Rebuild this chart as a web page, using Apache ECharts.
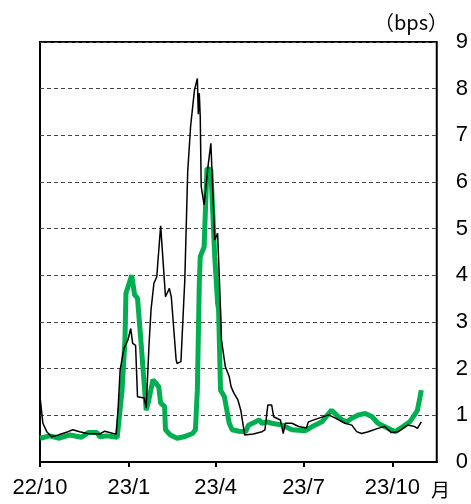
<!DOCTYPE html>
<html><head><meta charset="utf-8">
<script src="https://cdn.jsdelivr.net/npm/echarts@6/dist/echarts.min.js"></script>
<style>html,body{margin:0;padding:0;background:#fff}#c{width:471px;height:504px}</style>
</head><body><div id="c"></div>
<script>
// Black series (thin)
const blackDates = ['2022-10-01','2022-10-04','2022-10-08','2022-10-13','2022-10-20','2022-10-30','2022-11-04','2022-11-11','2022-11-19','2022-12-02','2022-12-07','2022-12-16','2022-12-19','2022-12-21','2022-12-23','2022-12-27','2022-12-31','2023-01-03','2023-01-05','2023-01-08','2023-01-10','2023-01-12','2023-01-17','2023-01-19','2023-01-22','2023-01-24','2023-01-27','2023-01-30','2023-01-31','2023-02-03','2023-02-08','2023-02-12','2023-02-14','2023-02-19','2023-02-20','2023-02-24','2023-02-25','2023-02-27','2023-02-28','2023-03-03','2023-03-06','2023-03-10','2023-03-13','2023-03-14','2023-03-15','2023-03-16','2023-03-17','2023-03-20','2023-03-24','2023-03-27','2023-03-31','2023-04-03','2023-04-04','2023-04-06','2023-04-07','2023-04-11','2023-04-15','2023-04-17','2023-04-20','2023-04-24','2023-04-27','2023-05-01','2023-05-10','2023-05-19','2023-05-22','2023-05-25','2023-05-29','2023-05-31','2023-06-07','2023-06-10','2023-06-12','2023-06-19','2023-06-26','2023-07-04','2023-07-06','2023-07-17','2023-07-27','2023-08-03','2023-08-13','2023-08-20','2023-08-25','2023-08-30','2023-09-06','2023-09-16','2023-09-23','2023-09-30','2023-10-07','2023-10-17','2023-10-24','2023-10-27','2023-10-31'];
const blackValues = [1.40,0.83,0.65,0.54,0.58,0.65,0.69,0.65,0.61,0.60,0.66,0.61,0.60,1.18,1.97,2.44,2.61,2.86,2.54,2.50,1.40,1.37,1.37,1.16,2.54,3.26,3.83,3.97,4.26,5.06,3.54,3.72,3.54,2.19,2.11,2.15,2.19,3.47,3.90,6.22,7.19,7.97,8.22,7.45,7.90,7.40,5.90,5.51,6.33,6.83,4.76,4.90,4.91,3.26,2.61,2.04,1.83,1.61,1.47,1.33,1.11,0.58,0.60,0.65,0.69,1.22,1.22,0.97,0.90,0.61,0.83,0.83,0.76,0.73,0.86,0.94,1.01,0.94,0.83,0.79,0.65,0.61,0.65,0.72,0.76,0.63,0.65,0.79,0.76,0.72,0.86];
// Green series (thick)
const greenDates = ['2022-10-01','2022-10-11','2022-10-21','2022-11-01','2022-11-13','2022-11-20','2022-11-29','2022-12-02','2022-12-09','2022-12-20','2022-12-25','2022-12-28','2022-12-29','2023-01-04','2023-01-07','2023-01-10','2023-01-14','2023-01-19','2023-01-21','2023-01-26','2023-01-29','2023-02-01','2023-02-03','2023-02-07','2023-02-08','2023-02-13','2023-02-20','2023-02-27','2023-03-08','2023-03-11','2023-03-13','2023-03-15','2023-03-16','2023-03-20','2023-03-22','2023-03-23','2023-03-27','2023-03-31','2023-04-03','2023-04-04','2023-04-06','2023-04-10','2023-04-15','2023-04-18','2023-04-25','2023-05-02','2023-05-05','2023-05-16','2023-05-19','2023-05-24','2023-05-29','2023-06-09','2023-06-19','2023-07-03','2023-07-10','2023-07-20','2023-07-30','2023-08-04','2023-08-10','2023-08-15','2023-08-20','2023-08-27','2023-09-03','2023-09-10','2023-09-16','2023-09-27','2023-10-04','2023-10-12','2023-10-19','2023-10-24','2023-10-27','2023-10-31'];
const greenValues = [0.51,0.56,0.51,0.58,0.53,0.63,0.63,0.54,0.56,0.53,1.54,2.61,3.61,4.00,3.58,3.51,2.47,1.11,1.26,1.76,1.69,1.61,1.26,1.19,0.69,0.58,0.51,0.54,0.61,0.69,1.54,3.83,4.40,4.61,5.76,6.29,6.26,4.40,3.40,3.26,1.54,1.40,0.83,0.69,0.66,0.65,0.79,0.90,0.83,0.86,0.83,0.79,0.69,0.67,0.76,0.86,1.11,1.01,0.90,0.86,0.94,1.01,1.04,0.97,0.83,0.72,0.65,0.76,0.86,1.01,1.11,1.54];
// X tick labels
const tickDates = ['2022-10-01','2023-01-01','2023-04-01','2023-07-01','2023-10-01'];
const tickLabels = ['22/10','23/1','23/4','23/7','23/10'];
const startDate = '2022-10-01';
const endDate = '2023-11-16';

const dayOf = d => Math.round((Date.parse(d) - Date.parse(startDate)) / 86400000);
const tickDays = tickDates.map(dayOf);
const labelMap = {};
tickDays.forEach((d, i) => labelMap[d] = tickLabels[i]);
const FONT = "'Liberation Sans',sans-serif";

const chart = echarts.init(document.getElementById('c'), null, {renderer: 'canvas'});
chart.setOption({
  animation: false,
  backgroundColor: '#fff',
  grid: {left: 40, right: 33, top: 42, bottom: 42, show: true, borderColor: '#000', borderWidth: 2, backgroundColor: 'transparent'},
  xAxis: {
    type: 'value', min: 0, max: dayOf(endDate),
    axisLine: {show: true, lineStyle: {color: '#000', width: 2}},
    axisTick: {show: true, customValues: tickDays, length: 5, lineStyle: {color: '#000', width: 2}},
    axisLabel: {customValues: tickDays, formatter: v => labelMap[v] || '', color: '#000', fontSize: 22, fontFamily: FONT, margin: 15},
    splitLine: {show: false}
  },
  yAxis: {
    type: 'value', position: 'right', min: 0, max: 9, interval: 1,
    axisLine: {show: false}, axisTick: {show: false},
    axisLabel: {color: '#000', fontSize: 22, fontFamily: FONT, margin: 19, align: 'left'},
    splitLine: {show: true, lineStyle: {color: '#444', width: 1, type: [4, 3]}}
  },
  graphic: [
    {type: 'text', left: 374, top: 12, style: {text: '（bps）', font: "20px 'Noto Sans CJK JP', sans-serif", fill: '#000'}},
    {type: 'text', left: 431, top: 480, style: {text: '月', font: "19px 'Noto Sans CJK JP', sans-serif", fill: '#000'}}
  ],
  series: [
    {type: 'line', data: greenDates.map((d, i) => [dayOf(d), greenValues[i]]), showSymbol: false,
     lineStyle: {color: '#00b050', width: 5}, z: 2},
    {type: 'line', data: blackDates.map((d, i) => [dayOf(d), blackValues[i]]), showSymbol: false,
     lineStyle: {color: '#000', width: 1.5}, z: 3}
  ]
});
</script></body></html>
